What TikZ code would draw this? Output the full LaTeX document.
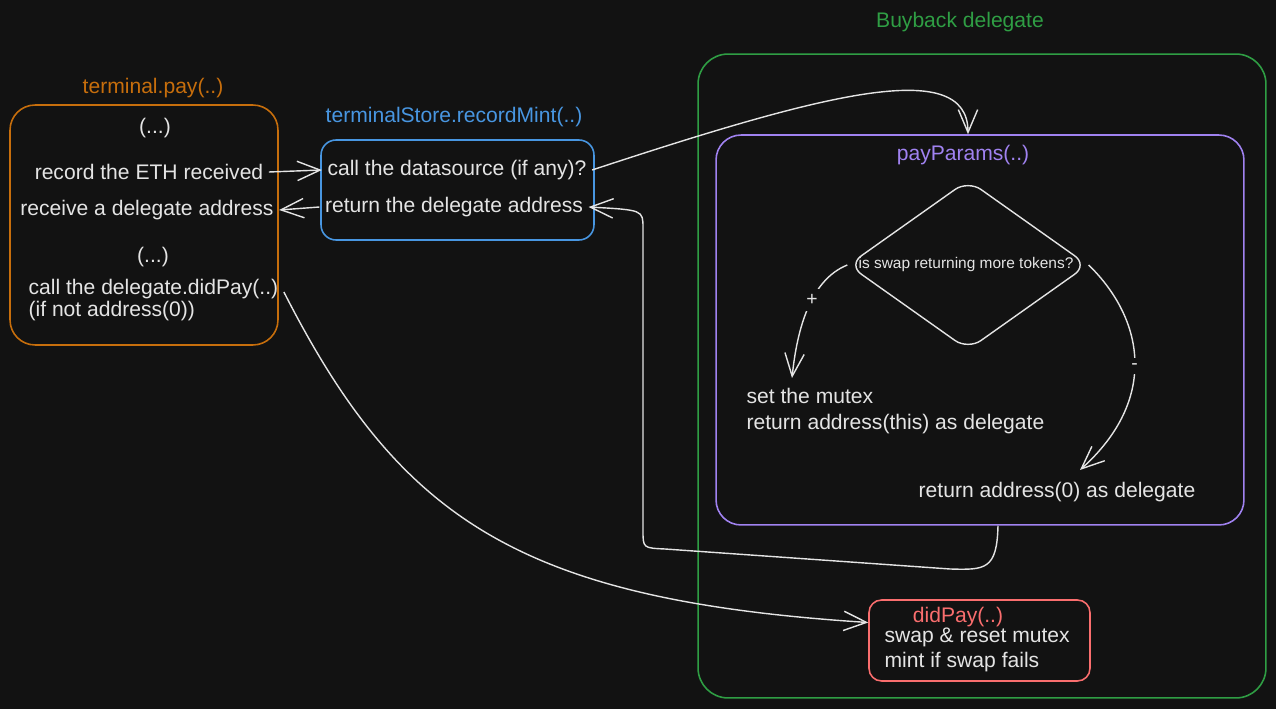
\documentclass[tikz,border=0pt]{standalone}
\usepackage{fontspec}
\setmainfont{Liberation Sans}
\usepackage{xcolor}
\usetikzlibrary{shapes,arrows.meta,positioning,calc}

\definecolor{bg}{RGB}{18,18,18}
\definecolor{ink}{RGB}{228,228,228}
\definecolor{payorange}{RGB}{199,110,12}
\definecolor{storeblue}{RGB}{72,150,225}
\definecolor{buygreen}{RGB}{47,158,68}
\definecolor{parpurple}{RGB}{160,130,240}
\definecolor{didred}{RGB}{250,110,110}

\begin{document}
\begin{tikzpicture}[
    x=0.02cm, y=-0.02cm,
    box/.style={rectangle, draw=#1, line width=0.9pt, inner sep=0pt},
    title/.style={text=#1, font=\fontsize{12}{14}\selectfont, inner sep=3pt},
    txt/.style={text=ink, font=\fontsize{12}{14}\selectfont, inner sep=3pt},
    decision/.style={diamond, draw=ink, line width=0.8pt, inner sep=0pt, rounded corners=9pt, minimum width=4.8cm, minimum height=3.4cm},
    arrow/.style={draw=ink, line width=0.8pt, -{Straight Barb[length=13pt,width=11pt,line width=0.8pt]}},
    sign/.style={text=ink, fill=bg, font=\fontsize{11}{12}\selectfont, inner sep=3pt}
]

% Background
\fill[bg] (0,0) rectangle (1276,709);
\useasboundingbox (0,0) rectangle (1276,709);

% terminal.pay
\node[title=payorange] (paytitle) at (153,88) {terminal.pay(..)};
\node[box=payorange, rounded corners=0.5cm, minimum width=5.36cm, minimum height=4.8cm] (paybox) at (144,225) {};
\node[txt] (dotsa) at (155,128) {(...)};
\node[txt] (rec) at (149,172) {record the ETH received};
\node[txt] (recv) at (147,210) {receive a delegate address};
\node[txt] (dotsb) at (153,257) {(...)};
\node[txt, anchor=west, align=left, font=\fontsize{12}{13}\selectfont] (callpay) at (23,300) {call the delegate.didPay(..)\\(if not address(0))};

% terminalStore.recordMint
\node[title=storeblue] (storetitle) at (454,117) {terminalStore.recordMint(..)};
\node[box=storeblue, rounded corners=0.3cm, minimum width=5.46cm, minimum height=2cm] (storebox) at (457.5,190) {};
\node[txt] (callds) at (457,170) {call the datasource (if any)?};
\node[txt] (retdel) at (454,207) {return the delegate address};

% Buyback delegate
\node[title=buygreen] (buytitle) at (960,22) {Buyback delegate};
\node[box=buygreen, rounded corners=0.6cm, minimum width=11.36cm, minimum height=12.88cm] (buybox) at (982,376) {};

% payParams
\node[title=parpurple] (partitle) at (963,155) {payParams(..)};
\node[box=parpurple, rounded corners=0.5cm, minimum width=10.56cm, minimum height=7.8cm] (parbox) at (980,330) {};
\node[decision] (swapq) at (968,265) {};
\node[txt, font=\fontsize{8.8}{10}\selectfont] (swaptext) at (966,265) {is swap returning more tokens?};
\node[txt, anchor=west, align=left, font=\fontsize{12}{15}\selectfont] (mutex) at (741,411) {set the mutex\\return address(this) as delegate};
\node[txt] (zero) at (1057,492) {return address(0) as delegate};
\coordinate (plusend) at (792,378);
\coordinate (minusend) at (1080,470);

% didPay
\node[box=didred, rounded corners=0.25cm, minimum width=4.42cm, minimum height=1.62cm] (didbox) at (979.5,640.5) {};
\node[title=didred] (didtitle) at (958,617) {didPay(..)};
\node[txt, anchor=west, align=left, font=\fontsize{12}{14}\selectfont] (swapmint) at (879,650) {swap \& reset mutex\\mint if swap fails};

% Connections
\draw[arrow] (rec.east) -- (callds.west);
\draw[arrow] (retdel.west) -- (recv.east);
\draw[arrow] (callds.east) .. controls (820,95) and (968,55) .. (parbox.north -| swapq);
\draw[arrow] (swapq.west) .. controls (810,280) and (797,330) .. node[sign, pos=0.42] {+} (plusend);
\draw[arrow] (swapq.east) .. controls (1145,320) and (1158,400) .. node[sign, pos=0.52] {-} (minusend);
\draw[arrow] ([xshift=0.36cm]parbox.south) .. controls (997,570) and (985,570) .. (950,569)
    -- (665,549) .. controls (643,548) .. (643,530) -- (643,228) .. controls (643,210) .. (retdel.east);
\draw[arrow] ([yshift=0.16cm]callpay.east) .. controls (400,520) and (520,600) .. ([yshift=0.36cm]didbox.west);

\end{tikzpicture}
\end{document}
